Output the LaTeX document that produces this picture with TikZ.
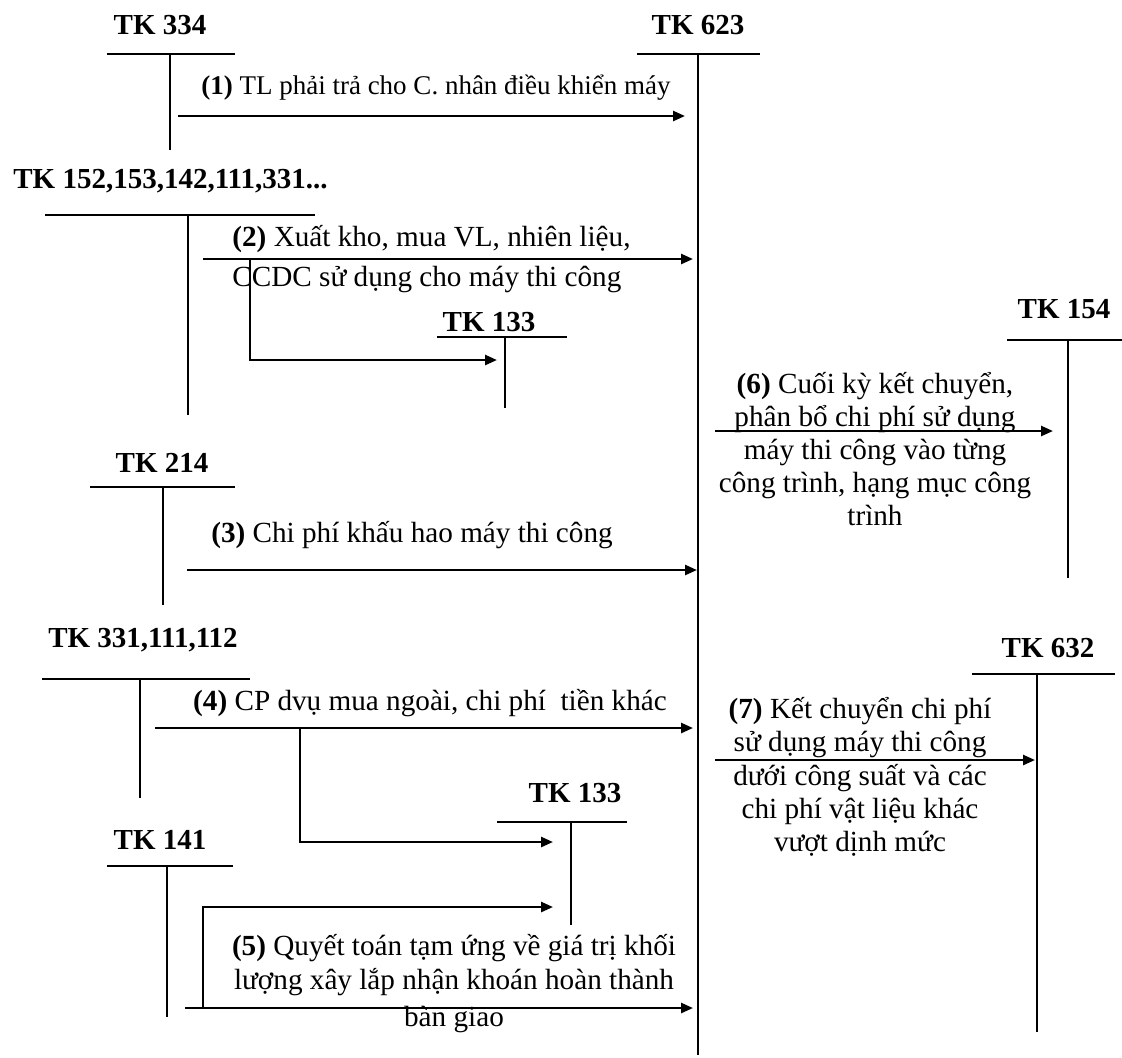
\documentclass[tikz,border=0pt]{standalone}
\usepackage{fontspec}
\setmainfont{Liberation Serif}
\usetikzlibrary{arrows.meta}
\tikzset{
  tk/.style={font=\fontsize{14.5}{17}\selectfont\bfseries, inner sep=0pt},
  txt/.style={font=\fontsize{14.6}{16.6}\selectfont, inner sep=0pt, align=center},
  tline/.style={line width=0.9pt},
}
\begin{document}
\begin{tikzpicture}[x=0.5pt, y=-0.5pt,
  arr/.style={-{Triangle[length=6pt,width=5pt]}, line width=1.25pt}]
\useasboundingbox (0,0) rectangle (1122,1057);
% T accounts: label, top bar, stem
\node[tk] (l334) at (160,25) {TK 334};
\draw[tline] (107,54) -- (235,54); \draw[tline] (170,54) coordinate (a334) -- (170,150);
\node[tk] (l623) at (698,25) {TK 623};
\draw[tline] (637,54) -- (760,54); \draw[line width=1.2pt] (698,54) coordinate (a623) -- (698,1055) coordinate (e623);
\node[tk, anchor=west] (l152) at (13,181) {TK 152,153,142,111,331...};
\draw[tline] (45,215) -- (315,215); \draw[tline] (188,215) coordinate (a152) -- (188,415);
\node[tk] (l133a) at (489,322) {TK 133};
\draw[tline] (437,337) -- (567,337); \draw[tline] (505,337) coordinate (a133a) -- (505,408);
\node[tk] (l154) at (1064,309) {TK 154};
\draw[tline] (1007,340) -- (1122,340); \draw[tline] (1068,340) coordinate (a154) -- (1068,578);
\node[tk] (l214) at (162,463) {TK 214};
\draw[tline] (90,487) -- (235,487); \draw[tline] (163,487) coordinate (a214) -- (163,605);
\node[tk] (l331) at (143,640) {TK 331,111,112};
\draw[tline] (42,679) -- (250,679); \draw[tline] (140,679) coordinate (a331) -- (140,798);
\node[tk] (l133b) at (575,793) {TK 133};
\draw[tline] (497,822) -- (627,822); \draw[tline] (571,822) coordinate (a133b) -- (571,925);
\node[tk] (l141) at (160,840) {TK 141};
\draw[tline] (107,866) -- (233,866); \draw[tline] (167,866) coordinate (a141) -- (167,1017);
\node[tk] (l632) at (1048,648) {TK 632};
\draw[tline] (972,674) -- (1115,674); \draw[tline] (1037,674) coordinate (a632) -- (1037,1032);

% entries
\coordinate (s1) at (178,116); \coordinate (d1) at (685,116);
\draw[arr] (s1) -- (d1);
\node[txt, font=\fontsize{13.5}{16}\selectfont] (n1) at (436,88) {\textbf{(1)} TL phải trả cho C. nhân điều khiển máy};

\coordinate (s2) at (203,259); \coordinate (d2) at (693,259);
\draw[arr] (s2) -- (d2);
\node[txt, align=left, anchor=west] (n2) at (232,259) {\textbf{(2)} Xuất kho, mua VL, nhiên liệu,\\[3pt]CCDC sử dụng cho máy thi công};
\coordinate (b2) at (250,259); \coordinate (t2) at (497,360);
\draw[arr] (b2) |- (t2);

\coordinate (s3) at (187,570); \coordinate (d3) at (697,570);
\draw[arr] (s3) -- (d3);
\node[txt] (n3) at (412,535) {\textbf{(3)} Chi phí khấu hao máy thi công};

\coordinate (s4) at (155,728); \coordinate (d4) at (693,728);
\draw[arr] (s4) -- (d4);
\node[txt] (n4) at (430,703) {\textbf{(4)} CP dvụ mua ngoài, chi phí\ \ tiền khác};
\coordinate (b4) at (300,728); \coordinate (t4) at (553,842);
\draw[arr] (b4) |- (t4);

\coordinate (s5) at (185,1008); \coordinate (d5) at (693,1008);
\draw[arr] (s5) -- (d5);
\coordinate (b5) at (203,1008); \coordinate (t5) at (553,907);
\draw[arr] (b5) |- (t5);
\node[txt, font=\fontsize{14.6}{17}\selectfont] (n5) at (454,984) {\textbf{(5)} Quyết toán tạm ứng về giá trị khối\\lượng xây lắp nhận khoán hoàn thành\\[1.5pt]bàn giao};

\coordinate (s6) at (715,431); \coordinate (d6) at (1053,431);
\draw[arr] (s6) -- (d6);
\node[txt] (n6) at (875,449) {\textbf{(6)} Cuối kỳ kết chuyển,\\phân bổ chi phí sử dụng\\máy thi công vào từng\\công trình, hạng mục công\\trình};

\coordinate (s7) at (715,760); \coordinate (d7) at (1035,760);
\draw[arr] (s7) -- (d7);
\node[txt] (n7) at (860,777) {\textbf{(7)} Kết chuyển chi phí\\sử dụng máy thi công\\dưới công suất và các\\chi phí vật liệu khác\\vượt dịnh mức};
\end{tikzpicture}
\end{document}
